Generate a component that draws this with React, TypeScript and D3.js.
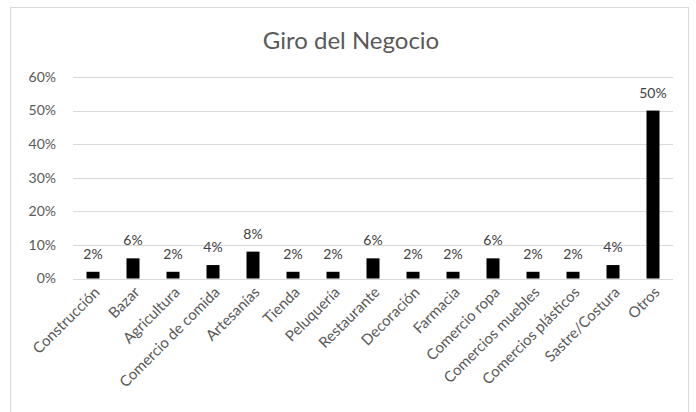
import React from "react";
import * as d3 from "d3";

const categories = [
  "Construcción", "Bazar", "Agricultura", "Comercio de comida", "Artesanías",
  "Tienda", "Peluquería", "Restaurante", "Decoración", "Farmacia",
  "Comercio ropa", "Comercios muebles", "Comercios plásticos", "Sastre/Costura", "Otros",
];
const values = [2, 6, 2, 4, 8, 2, 2, 6, 2, 2, 6, 2, 2, 4, 50];
const yTicks = [0, 10, 20, 30, 40, 50, 60];
const title = "Giro del Negocio";

const W = 696, H = 412;
const FONT = "Lato, 'Open Sans', sans-serif";

export default function App() {
  const left = 73, right = 673, top = 77, bottom = 278.5;
  const x = d3.scaleBand<string>().domain(categories).range([left, right]).paddingInner(0.675).paddingOuter(0.3375);
  const y = d3.scaleLinear().domain([0, 60]).range([bottom, top]);
  return (
    <svg width={W} height={H} style={{ position: "absolute", left: 0, top: 0 }}>
      <rect x={0} y={0} width={W} height={H} fill="#fff" />
      <rect x={10.5} y={7.5} width={678} height={420} fill="#fff" stroke="#d9d9d9" strokeWidth={1} />
      <text x={351} y={49} textAnchor="middle" fontFamily={FONT} fontSize={24} fill="#595959">{title}</text>
      {yTicks.map((t) => (
        <g key={t}>
          <line x1={left} x2={right} y1={Math.round(y(t)) + 0.5} y2={Math.round(y(t)) + 0.5} stroke="#d9d9d9" strokeWidth={1} />
          <text x={56} y={y(t)} dy="0.35em" textAnchor="end" fontFamily={FONT} fontSize={14} fill="#595959">{t}%</text>
        </g>
      ))}
      {categories.map((c, i) => {
        const bx = x(c)!;
        const bw = x.bandwidth();
        const v = values[i];
        return (
          <g key={c}>
            <rect x={bx} y={y(v)} width={bw} height={y(0) - y(v)} fill="#000" />
            <text x={bx + bw / 2} y={y(v) - 13} textAnchor="middle" fontFamily={FONT} fontSize={14} fill="#404040">{v}%</text>
            <text
              transform={`translate(${bx + bw / 2 + 4},${bottom + 11}) rotate(-45)`}
              textAnchor="end" dy="0.35em" fontFamily={FONT} fontSize={15} fill="#595959"
            >{c}</text>
          </g>
        );
      })}
    </svg>
  );
}
